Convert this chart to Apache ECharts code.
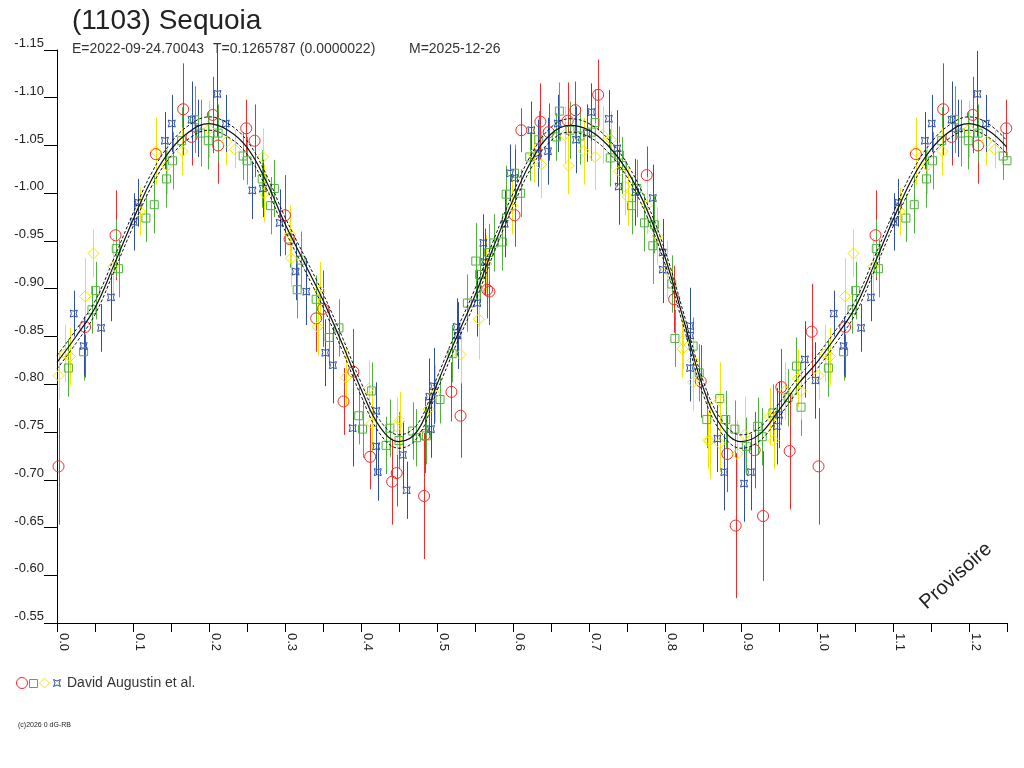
<!DOCTYPE html>
<html>
<head>
<meta charset="utf-8">
<script src="https://cdn.jsdelivr.net/npm/echarts@6/dist/echarts.min.js"></script>
<style>
  html, body { margin: 0; padding: 0; background: #fff; }
  #container { width: 1024px; height: 768px; }
</style>
</head>
<body>
<div id="container"></div>
<script>
// phase, magnitude, error  (David Augustin et al.)
var redPoints = [
    [0.002,-0.714,0.061],[0.037,-0.860,0.053],[0.077,-0.956,0.047],[0.130,-1.041,0.022],
    [0.166,-1.088,0.048],[0.177,-1.059,0.030],[0.205,-1.082,0.040],[0.212,-1.050,0.040],
    [0.249,-1.068,0.030],[0.260,-1.055,0.038],[0.300,-0.977,0.042],[0.306,-0.952,0.020],
    [0.341,-0.869,0.035],[0.350,-0.879,0.040],[0.377,-0.782,0.035],[0.390,-0.813,0.045],
    [0.412,-0.724,0.034],[0.441,-0.698,0.045],[0.447,-0.707,0.035],[0.483,-0.683,0.066],
    [0.484,-0.747,0.040],[0.519,-0.792,0.031],[0.531,-0.767,0.044],[0.566,-0.899,0.030],
    [0.569,-0.897,0.035],[0.602,-0.977,0.033],[0.611,-1.066,0.023],[0.636,-1.075,0.040],
    [0.647,-1.064,0.030],[0.672,-1.076,0.040],[0.682,-1.087,0.030],[0.712,-1.103,0.037],
    [0.776,-1.019,0.030],[0.812,-0.889,0.035],[0.847,-0.803,0.038],[0.882,-0.727,0.040],
    [0.893,-0.652,0.076],[0.918,-0.731,0.040],[0.929,-0.662,0.068],[0.953,-0.797,0.040],
    [0.964,-0.730,0.061],[0.993,-0.855,0.050]
];
var greenPoints = [
    [0.015,-0.817,0.030],[0.035,-0.834,0.030],[0.046,-0.878,0.025],[0.051,-0.898,0.030],
    [0.078,-0.942,0.030],[0.081,-0.921,0.030],[0.117,-0.974,0.025],[0.128,-0.988,0.030],
    [0.144,-1.015,0.030],[0.152,-1.034,0.030],[0.164,-1.055,0.035],[0.181,-1.077,0.035],
    [0.189,-1.063,0.035],[0.199,-1.055,0.030],[0.212,-1.063,0.030],[0.245,-1.039,0.025],
    [0.250,-1.034,0.025],[0.270,-1.015,0.030],[0.281,-0.987,0.030],[0.286,-1.005,0.030],
    [0.306,-0.952,0.030],[0.316,-0.899,0.030],[0.321,-0.930,0.030],[0.341,-0.889,0.025],
    [0.358,-0.849,0.030],[0.371,-0.859,0.030],[0.397,-0.767,0.030],[0.402,-0.753,0.030],
    [0.414,-0.793,0.030],[0.433,-0.736,0.030],[0.438,-0.754,0.030],[0.450,-0.741,0.030],
    [0.468,-0.751,0.030],[0.473,-0.744,0.030],[0.486,-0.746,0.030],[0.504,-0.784,0.025],
    [0.520,-0.832,0.030],[0.540,-0.885,0.030],[0.551,-0.929,0.040],[0.556,-0.915,0.030],
    [0.568,-0.938,0.030],[0.575,-0.948,0.030],[0.586,-0.949,0.030],[0.591,-0.999,0.030],
    [0.602,-1.021,0.030],[0.610,-1.000,0.025],[0.622,-1.038,0.025],[0.634,-1.056,0.030],
    [0.657,-1.059,0.025],[0.661,-1.086,0.030],[0.675,-1.066,0.030],[0.688,-1.060,0.030],
    [0.703,-1.064,0.030],[0.708,-1.074,0.035],[0.728,-1.037,0.030],[0.740,-1.040,0.030],
    [0.744,-1.029,0.030],[0.756,-0.987,0.030],[0.763,-1.005,0.030],[0.773,-0.969,0.030],
    [0.784,-0.945,0.040],[0.786,-0.967,0.030],[0.809,-0.905,0.030],[0.813,-0.848,0.030],
    [0.837,-0.840,0.030],[0.845,-0.812,0.030],[0.855,-0.763,0.030],[0.872,-0.785,0.030],
    [0.880,-0.763,0.030],[0.892,-0.753,0.030],[0.907,-0.735,0.030],[0.922,-0.756,0.030],
    [0.928,-0.745,0.030],[0.942,-0.770,0.030],[0.962,-0.786,0.030],[0.973,-0.819,0.030],
    [0.979,-0.776,0.030]
];
var yellowPoints = [
    [0.002,-0.809,0.025],[0.011,-0.832,0.030],[0.017,-0.829,0.030],[0.037,-0.892,0.040],
    [0.048,-0.937,0.025],[0.074,-0.923,0.030],[0.109,-0.981,0.025],[0.130,-1.044,0.035],
    [0.145,-1.029,0.030],[0.165,-1.044,0.025],[0.200,-1.067,0.030],[0.223,-1.054,0.025],
    [0.234,-1.046,0.020],[0.271,-1.038,0.030],[0.273,-1.000,0.030],[0.307,-0.957,0.030],
    [0.308,-0.932,0.030],[0.343,-0.860,0.030],[0.346,-0.898,0.030],[0.380,-0.807,0.030],
    [0.410,-0.795,0.030],[0.414,-0.759,0.030],[0.447,-0.756,0.030],[0.451,-0.762,0.030],
    [0.489,-0.774,0.030],[0.497,-0.790,0.030],[0.531,-0.831,0.030],[0.555,-0.868,0.042],
    [0.565,-0.926,0.030],[0.599,-0.987,0.030],[0.627,-1.041,0.030],[0.637,-1.030,0.035],
    [0.668,-1.061,0.030],[0.673,-1.029,0.030],[0.693,-1.044,0.035],[0.708,-1.038,0.035],
    [0.718,-1.061,0.030],[0.729,-1.056,0.030],[0.740,-1.023,0.030],[0.747,-1.007,0.030],
    [0.751,-0.996,0.030],[0.776,-0.987,0.030],[0.790,-0.955,0.030],[0.802,-0.920,0.030],
    [0.823,-0.837,0.030],[0.824,-0.846,0.030],[0.837,-0.825,0.030],[0.837,-0.802,0.030],
    [0.857,-0.741,0.030],[0.859,-0.741,0.040],[0.872,-0.783,0.040],[0.872,-0.738,0.030],
    [0.895,-0.727,0.035],[0.905,-0.747,0.040],[0.938,-0.766,0.030],[0.943,-0.741,0.030],
    [0.958,-0.793,0.030],[0.975,-0.806,0.030],[0.979,-0.793,0.030]
];
var bluePoints = [
    [0.022,-0.874,0.024],[0.035,-0.840,0.031],[0.058,-0.859,0.025],[0.071,-0.891,0.025],
    [0.101,-0.970,0.030],[0.107,-0.990,0.025],[0.142,-1.055,0.030],[0.151,-1.073,0.030],
    [0.177,-1.077,0.040],[0.186,-1.068,0.030],[0.211,-1.104,0.045],[0.222,-1.073,0.030],
    [0.257,-1.003,0.030],[0.271,-1.005,0.030],[0.293,-0.969,0.035],[0.314,-0.918,0.030],
    [0.328,-0.897,0.035],[0.353,-0.833,0.035],[0.363,-0.820,0.040],[0.389,-0.754,0.040],
    [0.420,-0.772,0.030],[0.420,-0.735,0.030],[0.422,-0.708,0.030],[0.455,-0.726,0.035],
    [0.460,-0.689,0.030],[0.490,-0.787,0.040],[0.492,-0.753,0.030],[0.496,-0.798,0.040],
    [0.526,-0.860,0.030],[0.527,-0.851,0.035],[0.553,-0.885,0.035],[0.561,-0.948,0.030],
    [0.563,-0.928,0.035],[0.589,-0.968,0.035],[0.596,-1.021,0.030],[0.602,-1.016,0.030],
    [0.624,-1.066,0.030],[0.633,-1.042,0.035],[0.646,-1.044,0.035],[0.659,-1.073,0.030],
    [0.683,-1.056,0.035],[0.697,-1.063,0.030],[0.703,-1.085,0.030],[0.726,-1.078,0.030],
    [0.737,-1.047,0.040],[0.739,-1.007,0.040],[0.761,-1.001,0.035],[0.784,-0.995,0.035],
    [0.797,-0.938,0.035],[0.797,-0.920,0.035],[0.833,-0.861,0.040],[0.833,-0.851,0.035],
    [0.833,-0.817,0.035],[0.869,-0.743,0.035],[0.878,-0.708,0.040],[0.904,-0.696,0.040],
    [0.913,-0.708,0.040],[0.947,-0.756,0.040],[0.950,-0.768,0.035],[0.984,-0.826,0.040],
    [0.998,-0.804,0.040]
];

// fitted light curve, one rotation
var curvePhase = [0.000,0.025,0.050,0.075,0.100,0.125,0.150,0.175,0.200,0.225,
                  0.250,0.275,0.300,0.325,0.350,0.375,0.400,0.425,0.450,0.475,
                  0.500,0.525,0.550,0.575,0.600,0.625,0.650,0.675,0.700,0.725,
                  0.750,0.775,0.800,0.825,0.850,0.875,0.900,0.925,0.950,0.975,1.000];
var curveMag = [-0.823,-0.850,-0.880,-0.925,-0.972,-1.015,-1.046,-1.065,-1.073,-1.066,
                -1.048,-1.013,-0.968,-0.928,-0.888,-0.843,-0.795,-0.755,-0.740,-0.752,
                -0.800,-0.848,-0.893,-0.945,-0.993,-1.035,-1.062,-1.071,-1.066,-1.050,
                -1.024,-0.985,-0.933,-0.866,-0.797,-0.755,-0.740,-0.748,-0.773,-0.800,-0.823];
var curveSpread = 0.007;

var xTicks = { min: 0, max: 1.25, interval: 0.05 };
var yTicks = { min: -1.15, max: -0.55, interval: 0.05 };

var FONT = '"Liberation Sans", Arial, sans-serif';
var RED = '#ee2a2a', GREEN = '#4fb23c', YELLOW = '#f2e600', BLUE = '#2f4fa6';
var BLUE_PATH = 'path://M0,0 Q5,3 10,0 Q7,5 10,10 Q5,7 0,10 Q3,5 0,0 Z';

// fold: repeat the first quarter after phase 1
function wrap(pts) {
    var out = pts.slice();
    pts.forEach(function (p) {
        if (p[0] <= 0.25) out.push([p[0] + 1, p[1], p[2]]);
    });
    return out;
}
function curveLine(shift) {
    var out = [];
    curvePhase.forEach(function (ph, i) { out.push([ph, curveMag[i] + shift]); });
    curvePhase.forEach(function (ph, i) {
        if (ph > 0 && ph <= 0.25) out.push([ph + 1, curveMag[i] + shift]);
    });
    return out;
}

function errSeries(pts, color) {
    return {
        type: 'custom',
        data: wrap(pts),
        clip: true,
        silent: true,
        z: 1,
        renderItem: function (params, api) {
            var a = api.coord([api.value(0), api.value(1) - api.value(2)]);
            var b = api.coord([api.value(0), api.value(1) + api.value(2)]);
            var x = Math.round(a[0]) + 0.5;
            return {
                type: 'line',
                shape: { x1: x, y1: a[1], x2: x, y2: b[1] },
                style: { stroke: color, lineWidth: 1 }
            };
        }
    };
}
function markSeries(pts, color, symbol, size) {
    return {
        type: 'scatter',
        data: wrap(pts).map(function (p) { return [p[0], p[1]]; }),
        symbol: symbol,
        symbolSize: size,
        z: 2,
        itemStyle: { color: 'rgba(255,255,255,0)', borderColor: color, borderWidth: 1, opacity: 1 }
    };
}
function lineSeries(shift, dashed) {
    return {
        type: 'line',
        data: curveLine(shift),
        smooth: 0.4,
        showSymbol: false,
        z: 5,
        lineStyle: { color: '#111', width: dashed ? 1 : 1.2, type: dashed ? [3, 2] : 'solid' }
    };
}

var myChart = echarts.init(document.getElementById('container'));

var option = {
    animation: false,
    backgroundColor: '#fff',
    grid: { left: 57, right: 17, top: 50, bottom: 145 },
    xAxis: {
        type: 'value',
        min: xTicks.min, max: xTicks.max, interval: xTicks.interval,
        axisLine: { lineStyle: { color: '#000', width: 1 } },
        axisTick: { length: 9, lineStyle: { color: '#000' } },
        splitLine: { show: false },
        axisLabel: {
            rotate: -90,
            margin: 10,
            color: '#222',
            fontFamily: FONT,
            fontSize: 13,
            verticalAlign: 'bottom',
            showMaxLabel: true,
            formatter: function (v) {
                var k = Math.round(v * 100);
                return k % 10 === 0 ? (k / 100).toFixed(1) : '';
            }
        }
    },
    yAxis: {
        type: 'value',
        inverse: true,
        min: yTicks.min, max: yTicks.max, interval: yTicks.interval,
        axisLine: { show: true, lineStyle: { color: '#000', width: 1 } },
        axisTick: { show: true, length: 13, lineStyle: { color: '#000' } },
        splitLine: { show: false },
        axisLabel: {
            margin: 13,
            color: '#222',
            fontFamily: FONT,
            fontSize: 13,
            verticalAlign: 'bottom',
            formatter: function (v) { return v.toFixed(2); }
        }
    },
    graphic: [
        { type: 'text', x: 72, y: 21, style: { text: '(1103) Sequoia', font: '28px ' + FONT, fill: '#222', verticalAlign: 'middle' } },
        { type: 'text', x: 72, y: 49, style: { text: 'E=2022-09-24.70043', font: '14px ' + FONT, fill: '#333', verticalAlign: 'middle' } },
        { type: 'text', x: 213, y: 49, style: { text: 'T=0.1265787 (0.0000022)', font: '14px ' + FONT, fill: '#333', verticalAlign: 'middle' } },
        { type: 'text', x: 409, y: 49, style: { text: 'M=2025-12-26', font: '14px ' + FONT, fill: '#333', verticalAlign: 'middle' } },
        { type: 'text', x: 956, y: 576, rotation: Math.PI / 4.3, style: { text: 'Provisoire', font: '20px ' + FONT, fill: '#222', align: 'center', verticalAlign: 'middle' } },
        { type: 'circle', shape: { cx: 22, cy: 683, r: 5.5 }, style: { fill: 'none', stroke: RED, lineWidth: 1 } },
        { type: 'rect', shape: { x: 29.5, y: 679.5, width: 8, height: 8 }, style: { fill: 'none', stroke: GREEN, lineWidth: 1 } },
        { type: 'polygon', shape: { points: [[44.5, 678], [49.5, 683], [44.5, 688], [39.5, 683]] }, style: { fill: 'none', stroke: YELLOW, lineWidth: 1 } },
        { type: 'polygon', shape: { points: [[53.5, 679.5], [57, 681], [60.5, 679.5], [59, 683], [60.5, 686.5], [57, 685], [53.5, 686.5], [55, 683]] }, style: { fill: 'none', stroke: BLUE, lineWidth: 1 } },
        { type: 'text', x: 67, y: 683, style: { text: 'David Augustin et al.', font: '14px ' + FONT, fill: '#333', verticalAlign: 'middle' } },
        { type: 'text', x: 18, y: 725, style: { text: '(c)2026 0 dG-RB', font: '7px ' + FONT, fill: '#222', verticalAlign: 'middle' } }
    ],
    series: [
        errSeries(redPoints, RED),
        errSeries(greenPoints, GREEN),
        errSeries(yellowPoints, YELLOW),
        errSeries(bluePoints, BLUE),
        markSeries(redPoints, RED, 'circle', 11),
        markSeries(greenPoints, GREEN, 'rect', 8),
        markSeries(yellowPoints, YELLOW, 'diamond', 11),
        markSeries(bluePoints, BLUE, BLUE_PATH, 7),
        lineSeries(0, false),
        lineSeries(-curveSpread, true),
        lineSeries(curveSpread, true)
    ]
};

myChart.setOption(option);
</script>
</body>
</html>
